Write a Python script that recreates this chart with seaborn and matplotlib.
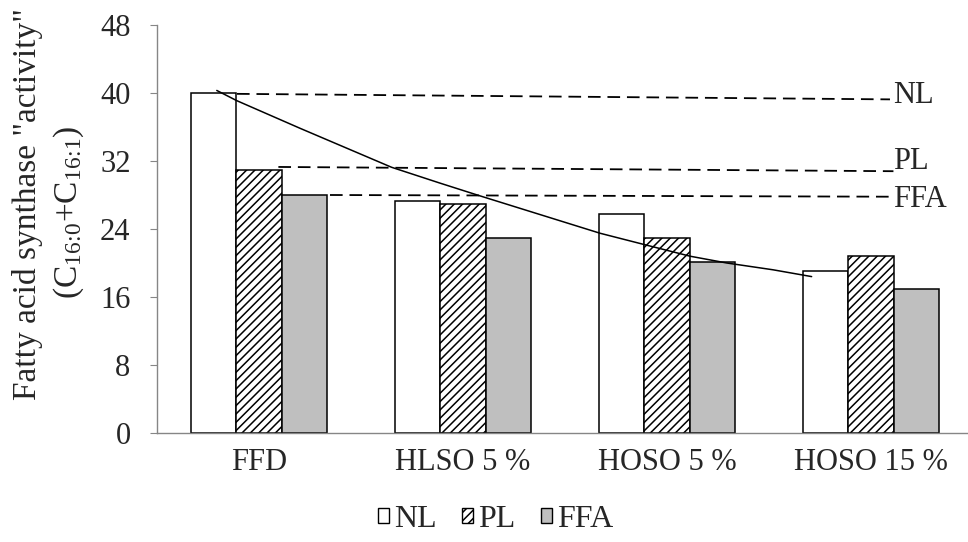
import matplotlib
matplotlib.use('Agg')
import matplotlib.pyplot as plt
from matplotlib.patches import Patch
import pandas as pd
import seaborn as sns

# Datos
diets = ['FFD', 'HLSO 5 %', 'HOSO 5 %', 'HOSO 15 %']
fractions = ['NL', 'PL', 'FFA']
nl_values = [40.0, 27.3, 25.8, 19.1]
pl_values = [31.0, 27.0, 23.0, 20.8]
ffa_values = [28.0, 23.0, 20.1, 17.0]

# líneas de referencia discontinuas (inicio / fin)
ref_x_start = [-0.108, 0.095, 0.348]
ref_x_end = [3.093, 3.11, 3.093]
ref_y_start = [39.9, 31.3, 28.0]
ref_y_end = [39.25, 30.8, 27.8]
ref_label_y = [39.7, 31.9, 27.5]

# curva de tendencia dibujada a mano
curve_x = [-0.207, -0.109, 0.201, 0.650, 0.887, 1.083, 1.672, 1.900, 2.113, 2.293, 2.520, 2.709]
curve_y = [40.3, 39.1, 35.85, 31.26, 29.4, 27.9, 23.5, 22.1, 20.8, 20.0, 19.2, 18.4]

y_ticks = [0, 8, 16, 24, 32, 40, 48]

sns.set_style('white')
plt.rcParams['font.family'] = ['Liberation Serif', 'DejaVu Serif']
plt.rcParams['mathtext.fontset'] = 'custom'
plt.rcParams['mathtext.rm'] = 'Liberation Serif'
plt.rcParams['mathtext.it'] = 'Liberation Serif:italic'
plt.rcParams['hatch.linewidth'] = 1.1

df = pd.DataFrame({
    'diet': diets * 3,
    'fraction': [f for f in fractions for _ in diets],
    'value': nl_values + pl_values + ffa_values,
})

axis_gray = '#868686'
fig = plt.figure(figsize=(9.68, 5.42), dpi=100)
ax = fig.add_axes([157 / 968, 1 - 433 / 542, 816 / 968, 408 / 542])

sns.barplot(data=df, x='diet', y='value', hue='fraction', hue_order=fractions,
            palette=['white', 'white', '#BFBFBF'], saturation=1, width=2 / 3,
            edgecolor='black', linewidth=1.1, errorbar=None, legend=False, ax=ax)
for bar in ax.containers[1]:
    bar.set_hatch('////')

for xs, xe, ys, ye, ly, name in zip(ref_x_start, ref_x_end, ref_y_start, ref_y_end, ref_label_y, fractions):
    ax.plot([xs, xe], [ys, ye], color='black', lw=1.3, dashes=(7, 3.8))
    ax.text(3.11, ly, name, fontsize=22, ha='left', va='center', clip_on=False)

ax.plot(curve_x, curve_y, color='black', lw=1.1)

ax.set_xlim(-0.5, 3.5)
ax.set_ylim(0, 48)
ax.set_yticks(y_ticks)
ax.set_xlabel('')
ax.set_ylabel('')
for side in ['top', 'right']:
    ax.spines[side].set_visible(False)
for side in ['left', 'bottom']:
    ax.spines[side].set_color(axis_gray)
    ax.spines[side].set_linewidth(1.0)

ax.set_xticks([-0.5, 0.5, 1.5, 2.5, 3.5], minor=True)
ax.tick_params(axis='x', which='major', length=0, pad=11, labelsize=22)
ax.tick_params(axis='x', which='minor', length=5, color=axis_gray, direction='out')
ax.tick_params(axis='y', length=5, color=axis_gray, direction='out', pad=14, labelsize=22, left=True)

fig.text(28 / 968, 1 - 204 / 542, 'Fatty acid synthase "activity"', rotation=90,
         fontsize=24, ha='center', va='center')
fig.text(69 / 968, 1 - 212 / 542, r'(C$_{\mathrm{16\!:\!0}}$+C$_{\mathrm{16\!:\!1}}$)', rotation=90,
         fontsize=24, ha='center', va='center')

handles = [Patch(facecolor='white', edgecolor='black', label='NL'),
           Patch(facecolor='white', edgecolor='black', hatch='////', label='PL'),
           Patch(facecolor='#BFBFBF', edgecolor='black', label='FFA')]
fig.legend(handles=handles, loc='center', bbox_to_anchor=(0.512, 0.042), ncol=3,
           frameon=False, fontsize=23, handlelength=0.35, handleheight=0.35,
           handletextpad=0.15, columnspacing=0.8, borderpad=0)

fig.savefig('out.png', dpi=100)
plt.close(fig)
